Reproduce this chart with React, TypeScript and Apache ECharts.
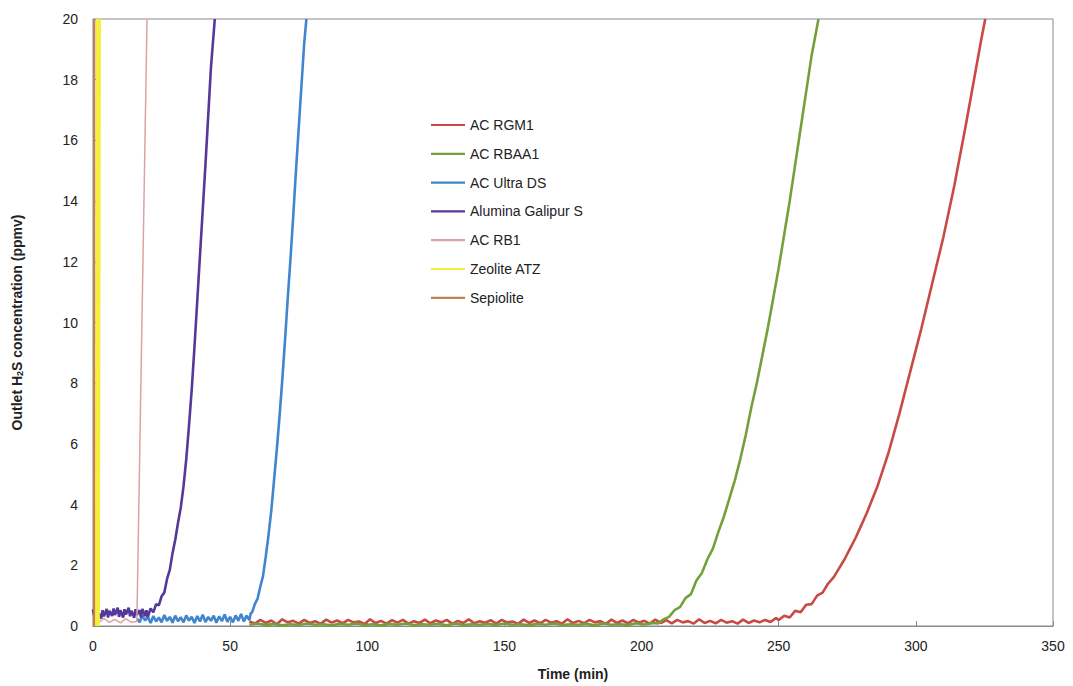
import React, { useEffect, useRef } from "react";
import * as echarts from "echarts";

const xTicks = [0, 50, 100, 150, 200, 250, 300, 350];
const yTicks = [0, 2, 4, 6, 8, 10, 12, 14, 16, 18, 20];

const seriesNames = [
  "AC RGM1",
  "AC RBAA1",
  "AC Ultra DS",
  "Alumina Galipur S",
  "AC RB1",
  "Zeolite ATZ",
  "Sepiolite",
];
const seriesColors = ["#C94A45", "#74A03A", "#3F86CC", "#55389A", "#DBA3A3", "#F3EF3C", "#C8804A"];

const acRgm1: [number, number][] = [
  [57, 0.15], [59, 0.08], [61, 0.2], [63, 0.1], [65, 0.18], [67, 0.06], [69, 0.22], [71, 0.12], [73, 0.17], [75, 0.08],
  [77, 0.2], [79, 0.1], [81, 0.16], [83, 0.07], [85, 0.21], [87, 0.11], [89, 0.18], [91, 0.09], [93, 0.2], [95, 0.12],
  [97, 0.15], [99, 0.07], [101, 0.22], [103, 0.1], [105, 0.17], [107, 0.08], [109, 0.19], [111, 0.11], [113, 0.2], [115, 0.08],
  [117, 0.16], [119, 0.1], [121, 0.21], [123, 0.09], [125, 0.18], [127, 0.12], [129, 0.2], [131, 0.07], [133, 0.17], [135, 0.1],
  [137, 0.22], [139, 0.09], [141, 0.16], [143, 0.11], [145, 0.19], [147, 0.08], [149, 0.2], [151, 0.12], [153, 0.15], [155, 0.07],
  [157, 0.21], [159, 0.1], [161, 0.18], [163, 0.09], [165, 0.2], [167, 0.11], [169, 0.16], [171, 0.08], [173, 0.22], [175, 0.1],
  [177, 0.17], [179, 0.09], [181, 0.2], [183, 0.12], [185, 0.16], [187, 0.07], [189, 0.21], [191, 0.1], [193, 0.18], [195, 0.09],
  [197, 0.2], [199, 0.11], [201, 0.17], [203, 0.08], [205, 0.21], [207, 0.1], [209, 0.19], [211, 0.09], [213, 0.2], [215, 0.12],
  [217, 0.16], [219, 0.08], [221, 0.22], [223, 0.1], [225, 0.17], [227, 0.09], [229, 0.2], [231, 0.11], [233, 0.16], [235, 0.08],
  [237, 0.21], [239, 0.1], [241, 0.18], [243, 0.12], [245, 0.2], [247, 0.13], [249, 0.26], [250, 0.2],
  [252, 0.34], [254, 0.28], [256, 0.5], [258, 0.45], [260, 0.7], [262, 0.72], [264, 1.0], [266, 1.1], [268, 1.4],
  [270, 1.6], [272, 1.9], [274, 2.2], [276, 2.55], [278, 2.9], [280, 3.3], [282, 3.7], [284, 4.15], [286, 4.6],
  [288, 5.15], [290, 5.7], [292, 6.35], [294, 7.0], [296, 7.7], [298, 8.4], [300, 9.1], [302, 9.8], [304, 10.55],
  [306, 11.3], [308, 12.05], [310, 12.8], [312, 13.65], [314, 14.5], [316, 15.45], [318, 16.4], [320, 17.4],
  [322, 18.4], [324, 19.4], [325.3, 20],
];

const acRbaa1: [number, number][] = [
  [57, 0.04], [60, 0.08], [63, 0.03], [66, 0.07], [69, 0.02], [72, 0.06], [75, 0.03], [78, 0.08], [81, 0.04], [84, 0.06],
  [87, 0.02], [90, 0.07], [93, 0.04], [96, 0.08], [99, 0.03], [102, 0.06], [105, 0.02], [108, 0.07], [111, 0.04], [114, 0.08],
  [117, 0.03], [120, 0.06], [123, 0.04], [126, 0.07], [129, 0.02], [132, 0.08], [135, 0.03], [138, 0.06], [141, 0.04], [144, 0.07],
  [147, 0.03], [150, 0.08], [153, 0.04], [156, 0.06], [159, 0.02], [162, 0.07], [165, 0.04], [168, 0.08], [171, 0.03], [174, 0.06],
  [177, 0.04], [180, 0.07], [183, 0.02], [186, 0.08], [189, 0.04], [192, 0.06], [195, 0.03], [198, 0.09], [201, 0.05], [204, 0.1],
  [206, 0.08], [208, 0.22], [210, 0.3], [212, 0.52], [214, 0.62], [216, 0.92], [218, 1.05], [220, 1.5], [222, 1.75],
  [224, 2.2], [226, 2.55], [228, 3.1], [230, 3.6], [232, 4.2], [234, 4.8], [236, 5.5], [238, 6.3], [240, 7.2],
  [242, 8.0], [244, 8.9], [246, 9.8], [248, 10.8], [250, 11.8], [252, 12.9], [254, 14.0], [256, 15.2], [258, 16.4],
  [260, 17.6], [262, 18.8], [264.5, 20],
];

const acUltraDs: [number, number][] = [
  [16, 0.25], [17, 0.12], [18, 0.35], [19, 0.18], [20, 0.3], [21, 0.1], [22, 0.33], [23, 0.15], [24, 0.28], [25, 0.12],
  [26, 0.36], [27, 0.17], [28, 0.3], [29, 0.11], [30, 0.34], [31, 0.16], [32, 0.29], [33, 0.12], [34, 0.35], [35, 0.18],
  [36, 0.3], [37, 0.1], [38, 0.33], [39, 0.15], [40, 0.37], [41, 0.13], [42, 0.3], [43, 0.17], [44, 0.34], [45, 0.11],
  [46, 0.32], [47, 0.16], [48, 0.38], [49, 0.14], [50, 0.3], [51, 0.12], [52, 0.35], [53, 0.17], [54, 0.4], [55, 0.15],
  [56, 0.34], [57, 0.2], [57.5, 0.42], [58, 0.45], [59, 0.72], [60, 0.9], [61, 1.3], [62, 1.65], [63, 2.3], [64, 3.0],
  [65, 3.8], [66, 4.8], [67, 5.8], [68, 6.9], [69, 8.1], [70, 9.4], [71, 10.8], [72, 12.1], [73, 13.5],
  [74, 15.0], [75, 16.4], [76, 17.8], [77, 19.2], [77.8, 20],
];

const aluminaGalipurS: [number, number][] = [
  [0, 0.55], [0.5, 0.28], [1, 0.5], [1.5, 0.3], [2, 0.45], [3, 0.25], [3.5, 0.52], [4, 0.32], [5, 0.56], [5.5, 0.28],
  [6, 0.5], [7, 0.33], [7.5, 0.58], [8, 0.36], [9, 0.6], [9.5, 0.3], [10, 0.52], [11, 0.28], [11.5, 0.55], [12, 0.38],
  [13, 0.6], [13.5, 0.32], [14, 0.5], [15, 0.27], [15.5, 0.55], [16, 0.36], [17, 0.52], [17.5, 0.28], [18, 0.56], [19, 0.33],
  [19.5, 0.52], [20, 0.3], [21, 0.58], [22, 0.45], [23, 0.72], [24, 0.68], [25, 0.98], [26, 1.1], [27, 1.55], [28, 1.85],
  [29, 2.4], [30, 2.85], [31, 3.4], [32, 3.9], [33, 4.6], [34, 5.5], [35, 6.6], [36, 7.8], [37, 9.2], [38, 10.7],
  [39, 12.2], [40, 13.7], [41, 15.2], [42, 16.8], [43, 18.4], [44.4, 20],
];

const acRb1: [number, number][] = [
  [0, 0.2], [2, 0.1], [4, 0.25], [6, 0.12], [8, 0.22], [10, 0.1], [12, 0.24], [14, 0.12], [16, 0.15], [19.7, 20],
];

const zeoliteAtz: [number, number][] = [
  [1.6, 0], [2.0, 20],
];

const sepiolite: [number, number][] = [
  [0.4, 0], [0.5, 20],
];

const seriesData = [acRgm1, acRbaa1, acUltraDs, aluminaGalipurS, acRb1, zeoliteAtz, sepiolite];
const seriesWidths = [2.6, 2.6, 2.6, 2.6, 1.5, 5, 2];

export default function App() {
  const ref = useRef<HTMLDivElement>(null);
  useEffect(() => {
    if (!ref.current) return;
    const chart = echarts.init(ref.current, undefined, { renderer: "svg" });
    const font = "'Liberation Sans', Arial, sans-serif";
    chart.setOption({
      animation: false,
      backgroundColor: "#ffffff",
      textStyle: { fontFamily: font },
      grid: {
        left: 93,
        right: 20,
        top: 19,
        bottom: 56,
        show: true,
        borderColor: "#8a8a8a",
        borderWidth: 1,
        backgroundColor: "transparent",
      },
      legend: {
        orient: "vertical",
        left: 426,
        top: 112,
        icon: "rect",
        itemWidth: 34,
        itemHeight: 2.2,
        itemGap: 12.8,
        data: seriesNames,
        textStyle: { fontFamily: font, fontSize: 14, color: "#222", lineHeight: 16 },
      },
      xAxis: {
        type: "value",
        min: 0,
        max: 350,
        interval: 50,
        name: "Time (min)",
        nameLocation: "middle",
        nameGap: 41,
        nameTextStyle: { fontFamily: font, fontSize: 14, fontWeight: "bold", color: "#222" },
        axisLine: { show: true, lineStyle: { color: "#8a8a8a" } },
        axisTick: { show: true, inside: true, length: 5, lineStyle: { color: "#8a8a8a" } },
        axisLabel: {
          fontFamily: font,
          fontSize: 14,
          color: "#222",
          margin: 13,
          formatter: (v: number) => (xTicks.includes(v) ? String(v) : ""),
        },
        splitLine: { show: false },
      },
      yAxis: {
        type: "value",
        min: 0,
        max: 20,
        interval: 2,
        name: "Outlet H{sub|2}S concentration (ppmv)",
        nameLocation: "middle",
        nameGap: 69,
        nameTextStyle: {
          fontFamily: font,
          fontSize: 14,
          fontWeight: "bold",
          color: "#222",
          rich: {
            sub: { fontFamily: font, fontSize: 9, fontWeight: "bold", color: "#222", verticalAlign: "bottom", padding: [6, 0, 0, 0] },
          },
        },
        axisLine: { show: true, lineStyle: { color: "#8a8a8a" } },
        axisTick: { show: true, inside: true, length: 5, lineStyle: { color: "#8a8a8a" } },
        axisLabel: {
          fontFamily: font,
          fontSize: 14,
          color: "#222",
          margin: 15,
          formatter: (v: number) => (yTicks.includes(v) ? String(v) : ""),
        },
        splitLine: { show: false },
      },
      series: seriesNames.map((name, i) => ({
        name,
        type: "line",
        data: seriesData[i],
        showSymbol: false,
        symbol: "none",
        smooth: false,
        color: seriesColors[i],
        lineStyle: { color: seriesColors[i], width: seriesWidths[i] },
        emphasis: { disabled: true },
        clip: true,
      })),
    });
    return () => chart.dispose();
  }, []);
  return (
    <div
      ref={ref}
      style={{ position: "absolute", left: 0, top: 0, width: 1073, height: 686, background: "#fff" }}
    />
  );
}
